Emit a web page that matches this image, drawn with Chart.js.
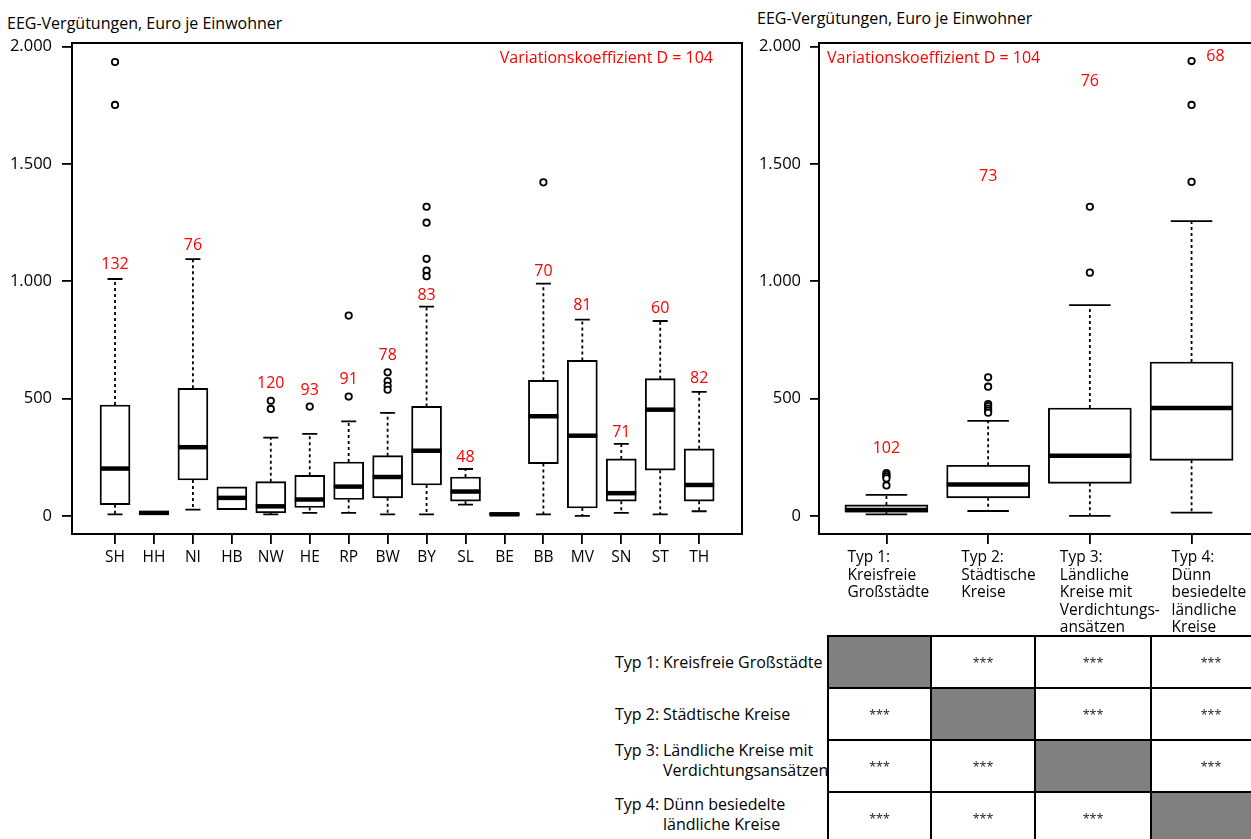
<!DOCTYPE html>
<html><head><meta charset="utf-8">
<script src="https://cdn.jsdelivr.net/npm/chart.js@4.4.1/dist/chart.umd.min.js"></script>
<style>
html,body{margin:0;padding:0;width:1251px;height:839px;overflow:hidden;background:#fff;font-family:"Open Sans",sans-serif;color:#000;}
canvas{position:absolute;top:0;}
#c1{left:0;}
#c2{left:740px;}
.ttl{position:absolute;font-size:16px;line-height:20px;white-space:nowrap;}
.rl{position:absolute;left:615px;font-size:16px;line-height:20.7px;white-space:nowrap;display:flex;}
.rl .p{width:48px;flex:none;}
#tbl{position:absolute;left:827px;top:635px;border-collapse:collapse;table-layout:fixed;}
#tbl td{border:2px solid #000;height:50px;padding:0;text-align:center;vertical-align:middle;font-size:12.5px;color:#222;}
#tbl td.g{background:#808080;}
</style></head><body>
<div class="ttl" style="left:7px;top:13px">EEG-Vergütungen, Euro je Einwohner</div>
<div class="ttl" style="left:757px;top:8px">EEG-Vergütungen, Euro je Einwohner</div>
<canvas id="c1" width="750" height="600"></canvas>
<canvas id="c2" width="525" height="640"></canvas>
<div id="rows"></div>
<table id="tbl"></table>
<script>
// ---------- data: left panel (Bundesländer) ----------
const states = ['SH','HH','NI','HB','NW','HE','RP','BW','BY','SL','BE','BB','MV','SN','ST','TH'];
const stLow  = [7, 9, 27, 27, 7, 13, 13, 7, 7, 48, 3, 7, 0, 13, 7, 20];
const stQ1   = [48, 9, 153, 27, 13, 36, 70, 77, 132, 63, 3, 223, 34, 63, 195, 63];
const stMed  = [202, 13, 293, 77, 41, 70, 125, 166, 278, 104, 7, 425, 342, 97, 453, 132];
const stQ3   = [473, 17, 544, 124, 146, 173, 230, 257, 467, 166, 11, 578, 663, 243, 585, 286];
const stHigh = [1010, 17, 1095, 124, 334, 350, 403, 439, 892, 200, 11, 990, 837, 307, 831, 529];
const stOut  = [[1935,1752],[],[],[],[491,456],[466],[854,509],[612,575,555,538],[1318,1250,1096,1046,1022],[],[],[1422],[],[],[],[]];
const stCV   = [132, null, 76, null, 120, 93, 91, 78, 83, 48, null, 70, 81, 71, 60, 82];
const stCVat = [1070, null, 1155, null, 566, 537, 583, 683, 939, 250, null, 1043, 896, 355, 884, 588];

// ---------- data: right panel (Kreistypen) ----------
const types = [['Typ 1:','Kreisfreie','Großstädte'],['Typ 2:','Städtische','Kreise'],['Typ 3:','Ländliche','Kreise mit','Verdichtungs-','ansätzen'],['Typ 4:','Dünn','besiedelte','ländliche','Kreise']];
const tyLow  = [7, 21, 0, 14];
const tyQ1   = [16, 77, 139, 237];
const tyMed  = [25, 134, 257, 460];
const tyQ3   = [47, 216, 460, 656];
const tyHigh = [90, 405, 899, 1257];
const tyOut  = [[183,175,168,160,130],[591,551,477,468,458,449,440],[1318,1037],[1939,1752,1424]];
const tyCV   = [102, 73, 76, 68];
const tyCVat = [288, 1446, 1851, 1958];

const yTicks = [0, 500, 1000, 1500, 2000];
const varText = 'Variationskoeffizient D = 104';

// ---------- significance table ----------
const rowLabels = [['Typ 1:','Kreisfreie Großstädte'],['Typ 2:','Städtische Kreise'],['Typ 3:','Ländliche Kreise mit','Verdichtungsansätzen'],['Typ 4:','Dünn besiedelte','ländliche Kreise']];
const sig = [[null,'***','***','***'],['***',null,'***','***'],['***','***',null,'***'],['***','***','***',null]];

Chart.defaults.color = '#000';
Chart.defaults.font.family = '"Open Sans", sans-serif';

const fmt = v => String(v).replace(/\B(?=(\d{3})+(?!\d))/g, '.');

const boxPlugin = {
  id: 'boxExtras',
  afterDatasetsDraw(chart, args, o) {
    const {ctx, chartArea: a, scales: {x, y}} = chart;
    const meta = chart.getDatasetMeta(0);
    ctx.save();
    ctx.strokeStyle = '#000';
    ctx.lineWidth = 2;
    ctx.strokeRect(a.left, a.top, a.right - a.left, a.bottom - a.top);
    o.med.forEach((m, i) => {
      const bar = meta.data[i];
      const cx = bar.x, w = bar.width;
      ctx.lineWidth = 1.8;
      ctx.setLineDash([3, 3]);
      ctx.beginPath();
      if (o.high[i] > o.q3[i]) { ctx.moveTo(cx, y.getPixelForValue(o.q3[i])); ctx.lineTo(cx, y.getPixelForValue(o.high[i])); }
      if (o.low[i] < o.q1[i]) { ctx.moveTo(cx, y.getPixelForValue(o.q1[i])); ctx.lineTo(cx, y.getPixelForValue(o.low[i])); }
      ctx.stroke();
      ctx.setLineDash([]);
      ctx.beginPath();
      if (o.high[i] > o.q3[i]) { const yy = y.getPixelForValue(o.high[i]); ctx.moveTo(cx - w / 4, yy); ctx.lineTo(cx + w / 4, yy); }
      if (o.low[i] < o.q1[i]) { const yy = y.getPixelForValue(o.low[i]); ctx.moveTo(cx - w / 4, yy); ctx.lineTo(cx + w / 4, yy); }
      ctx.stroke();
      ctx.lineWidth = 4.5;
      ctx.beginPath();
      const ym = y.getPixelForValue(m);
      ctx.moveTo(cx - w / 2, ym); ctx.lineTo(cx + w / 2, ym);
      ctx.stroke();
    });
    ctx.fillStyle = '#ff0000';
    ctx.font = '16px "Open Sans", sans-serif';
    ctx.textAlign = 'center';
    ctx.textBaseline = 'middle';
    o.cv.forEach((c, i) => {
      if (c === null) return;
      const dx = (o.cvDx && o.cvDx[i]) || 0;
      ctx.fillText(String(c), x.getPixelForValue(i + 1 + dx), y.getPixelForValue(o.cvAt[i]));
    });
    ctx.textAlign = o.varAlign;
    ctx.fillText(varText, o.varAlign === 'right' ? a.right - 29 : a.left + 8, a.top + 15);
    if (o.xLines) {
      ctx.fillStyle = '#000';
      ctx.textAlign = 'left';
      ctx.font = '15.5px "Open Sans", sans-serif';
      o.xLines.forEach((lines, i) => {
        const lx = x.getPixelForValue(i + 1) + o.xOff[i];
        lines.forEach((t, j) => ctx.fillText(t, lx, a.bottom + 24 + j * 17.5));
      });
    }
    ctx.restore();
  }
};

function makeChart(id, cats, low, q1, med, q3, high, outs, cv, cvAt, cfg) {
  const boxes = cats.map((c, i) => ({x: i + 1, y: [q1[i], q3[i]]}));
  const pts = [];
  outs.forEach((arr, i) => arr.forEach(v => pts.push({x: i + 1, y: v})));
  return new Chart(document.getElementById(id), {
    type: 'bar',
    data: {
      datasets: [
        {type: 'bar', data: boxes, backgroundColor: '#fff', borderColor: '#000', borderWidth: 1.9, borderSkipped: false, barThickness: cfg.barPx, order: 2},
        {type: 'scatter', data: pts, pointStyle: 'circle', pointRadius: 3.2, borderWidth: 1.8, borderColor: '#000', backgroundColor: '#fff', order: 1}
      ]
    },
    options: {
      responsive: false, animation: false, events: [],
      layout: {padding: cfg.pad},
      plugins: {
        legend: {display: false}, tooltip: {enabled: false},
        boxExtras: {low, q1, med, q3, high, cv, cvAt, cvDx: cfg.cvDx, varAlign: cfg.varAlign, xLines: cfg.xLines, xOff: cfg.xOff}
      },
      scales: {
        x: {
          type: 'linear', min: cfg.xMin, max: cfg.xMax, offset: false,
          grid: {drawOnChartArea: false, drawTicks: true, tickLength: 10, color: '#000', lineWidth: 1.8, offset: false},
          border: {display: true, color: '#000', width: 2},
          afterBuildTicks: s => { s.ticks = cats.map((c, i) => ({value: i + 1})); },
          afterFit: s => { s.height = 40; },
          ticks: {autoSkip: false, maxRotation: 0, padding: 4, font: {size: 15.5},
            callback: v => cfg.xLines ? '' : cats[v - 1]}
        },
        y: {
          type: 'linear', min: -77, max: 2016,
          grid: {drawOnChartArea: false, drawTicks: true, tickLength: cfg.tickLen, color: '#000', lineWidth: 1.8},
          border: {display: true, color: '#000', width: 2},
          afterBuildTicks: s => { s.ticks = yTicks.map(v => ({value: v})); },
          afterFit: s => { s.width = cfg.yWidth; },
          ticks: {padding: cfg.tickLen, font: {size: 16.5}, callback: v => fmt(v)}
        }
      }
    },
    plugins: [boxPlugin]
  });
}

makeChart('c1', states, stLow, stQ1, stMed, stQ3, stHigh, stOut, stCV, stCVat, {
  barPx: 30, pad: {top: 43, right: 8, bottom: 26, left: 0}, xMin: -0.105, xMax: 17.1,
  tickLen: 10, yWidth: 72, varAlign: 'right'
});
makeChart('c2', types.map(t => t[0]), tyLow, tyQ1, tyMed, tyQ3, tyHigh, tyOut, tyCV, tyCVat, {
  barPx: 83, pad: {top: 43, right: 6, bottom: 66, left: 0}, xMin: 0.337, xMax: 4.663,
  tickLen: 9, yWidth: 79, varAlign: 'left', cvDx: [0, 0, 0, 0.235],
  xLines: types, xOff: [-39, -27, -30, -20]
});

// table
const rowCenters = [662, 714, 750, 804];
const rowsDiv = document.getElementById('rows');
rowLabels.forEach((r, i) => {
  const d = document.createElement('div');
  d.className = 'rl';
  d.style.top = (rowCenters[i] - 10.35) + 'px';
  const p = document.createElement('span'); p.className = 'p'; p.textContent = r[0];
  const t = document.createElement('span'); t.innerHTML = r.slice(1).join('<br>');
  d.appendChild(p); d.appendChild(t);
  rowsDiv.appendChild(d);
});
const colW = [103, 104, 116, 120];
const tbl = document.getElementById('tbl');
const cg = document.createElement('colgroup');
colW.forEach(w => { const c = document.createElement('col'); c.style.width = w + 'px'; cg.appendChild(c); });
tbl.appendChild(cg);
tbl.style.width = colW.reduce((s, w) => s + w, 0) + 'px';
sig.forEach(row => {
  const tr = document.createElement('tr');
  row.forEach((v, j) => {
    const td = document.createElement('td');
    if (v === null) td.className = 'g'; else td.textContent = v;
    tr.appendChild(td);
  });
  tbl.appendChild(tr);
});
</script>
</body></html>
